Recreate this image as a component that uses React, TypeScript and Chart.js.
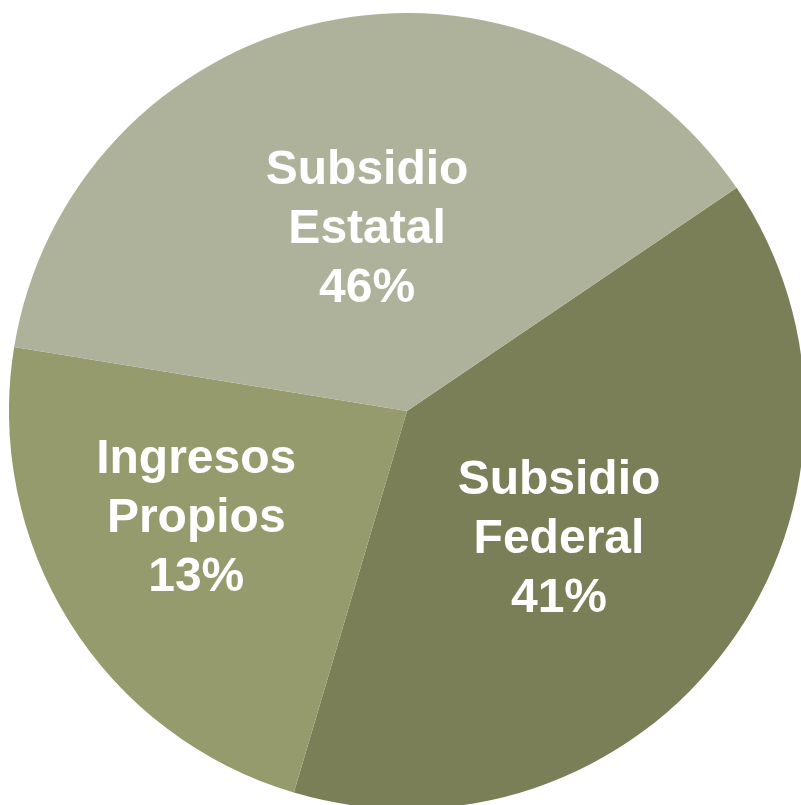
import React, { useEffect, useRef } from "react";
import { Chart, registerables } from "chart.js";

Chart.register(...registerables);

// Categories (in drawing order, clockwise starting at the Federal/Estatal boundary)
const categories = ["Subsidio Federal", "Ingresos Propios", "Subsidio Estatal"];
// Slice shares as drawn in the picture
const sliceShares = [39.1, 23.0, 38.0];
// Percentage labels printed on the slices
const percentLabels = ["41%", "13%", "46%"];
// Label lines for each category
const labelLines = [
  ["Subsidio", "Federal"],
  ["Ingresos", "Propios"],
  ["Subsidio", "Estatal"],
];

const colors = ["#7B7F58", "#959B6C", "#AFB29B"];

// Style: where labels sit (fraction of radius, angle tweak in degrees)
const labelRadiusFrac = [0.5, 0.595, 0.466];
const labelAngleTweak = [4.0, 5.0, 0];

const labelPlugin = {
  id: "sliceLabels",
  afterDatasetsDraw(chart: any) {
    const ctx = chart.ctx;
    const meta = chart.getDatasetMeta(0);
    ctx.save();
    ctx.fillStyle = "#FFFFFF";
    ctx.font = "bold 48px 'Liberation Sans', Arial, sans-serif";
    ctx.textAlign = "center";
    ctx.textBaseline = "middle";
    meta.data.forEach((arc: any, i: number) => {
      const p = arc.getProps(["x", "y", "startAngle", "endAngle", "outerRadius"], true);
      const mid = (p.startAngle + p.endAngle) / 2 + (labelAngleTweak[i] * Math.PI) / 180;
      const r = p.outerRadius * labelRadiusFrac[i];
      const cx = p.x + Math.cos(mid) * r;
      const cy = p.y + Math.sin(mid) * r;
      const lines = [...labelLines[i], percentLabels[i]];
      const lh = 59;
      lines.forEach((t, k) => {
        ctx.fillText(t, cx, cy + (k - 1) * lh);
      });
    });
    ctx.restore();
  },
};

export default function App() {
  const ref = useRef<HTMLCanvasElement | null>(null);
  useEffect(() => {
    if (!ref.current) return;
    const chart = new Chart(ref.current, {
      type: "pie",
      data: {
        labels: categories,
        datasets: [
          {
            data: sliceShares,
            backgroundColor: colors,
            borderWidth: 0,
            hoverOffset: 0,
          },
        ],
      },
      options: {
        responsive: false,
        animation: false,
        rotation: 55.9,
        layout: { padding: 0 },
        plugins: {
          legend: { display: false },
          tooltip: { enabled: false },
        },
        events: [],
      },
      plugins: [labelPlugin],
    });
    return () => chart.destroy();
  }, []);
  return (
    <div
      style={{
        position: "fixed",
        left: 0,
        top: 0,
        width: 801,
        height: 805,
        overflow: "hidden",
        background: "#FFFFFF",
      }}
    >
      <canvas
        ref={ref}
        width={796}
        height={796}
        style={{ position: "absolute", left: 9, top: 13, width: 796, height: 796 }}
      />
    </div>
  );
}
